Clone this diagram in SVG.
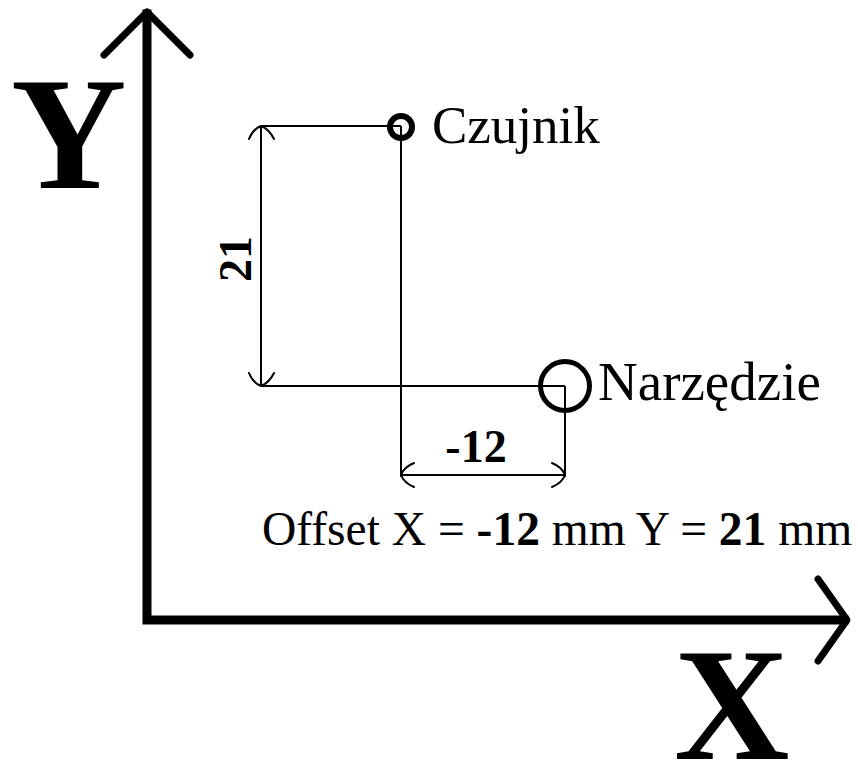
<svg xmlns="http://www.w3.org/2000/svg" width="858" height="763" viewBox="0 0 858 763">
<style>
.axis{fill:none;stroke:#000;stroke-width:9;stroke-linejoin:miter;stroke-linecap:square}
.ah{fill:none;stroke:#000;stroke-width:7;stroke-linecap:round;stroke-linejoin:round}
.dim{fill:none;stroke:#000;stroke-width:2}
.dah{fill:none;stroke:#000;stroke-width:2;stroke-linecap:round}
.big{font-family:"Liberation Serif","Times New Roman",serif;font-weight:bold;font-size:160px;fill:#000}
.lbl{font-family:"Liberation Serif","Times New Roman",serif;fill:#000}
.num{font-weight:bold}
</style>
<rect width="858" height="763" fill="#fff"/>
<g id="axes">
<path class="axis" d="M147,14 V620 H844"/>
<path class="ah" d="M104,55 L147,12 L190,55"/>
<path class="ah" d="M818,579 L847,620 L818,661"/>
<text class="big" x="11" y="188">Y</text>
<text class="big" x="674" y="759" font-size="155">X</text>
</g>
<g id="connectors">
<line class="dim" x1="261" y1="126" x2="401" y2="126"/>
<line class="dim" x1="401" y1="126" x2="401" y2="477"/>
<line class="dim" x1="261" y1="126" x2="261" y2="386"/>
<line class="dim" x1="261" y1="386" x2="565" y2="386"/>
<line class="dim" x1="565" y1="386" x2="565" y2="477"/>
<line class="dim" x1="401" y1="475" x2="565" y2="475"/>
<path class="dah" d="M249,139 Q253,129 261,126 Q269,129 274,139"/>
<path class="dah" d="M249,373 Q253,383 261,386 Q269,383 274,373"/>
<path class="dah" d="M414,463 Q404,467 401,475 Q404,483 414,487"/>
<path class="dah" d="M552,463 Q562,467 565,475 Q562,483 552,487"/>
<text class="lbl num" font-size="46" x="476" y="462" text-anchor="middle">-12</text>
<text class="lbl num" font-size="46" transform="translate(251,259) rotate(-90)" text-anchor="middle">21</text>
</g>
<g id="czujnik">
<circle cx="401" cy="127" r="11" fill="none" stroke="#000" stroke-width="6"/>
<text class="lbl" font-size="53" x="432" y="143">Czujnik</text>
</g>
<g id="narzedzie">
<circle cx="565" cy="386" r="24.5" fill="none" stroke="#000" stroke-width="5"/>
<text class="lbl" font-size="55" x="598" y="400">Narzędzie</text>
</g>
<g id="offset">
<text class="lbl" font-size="47.5" x="262" y="545">Offset X = <tspan class="num">-12</tspan> mm Y = <tspan class="num">21</tspan> mm</text>
</g>
</svg>
